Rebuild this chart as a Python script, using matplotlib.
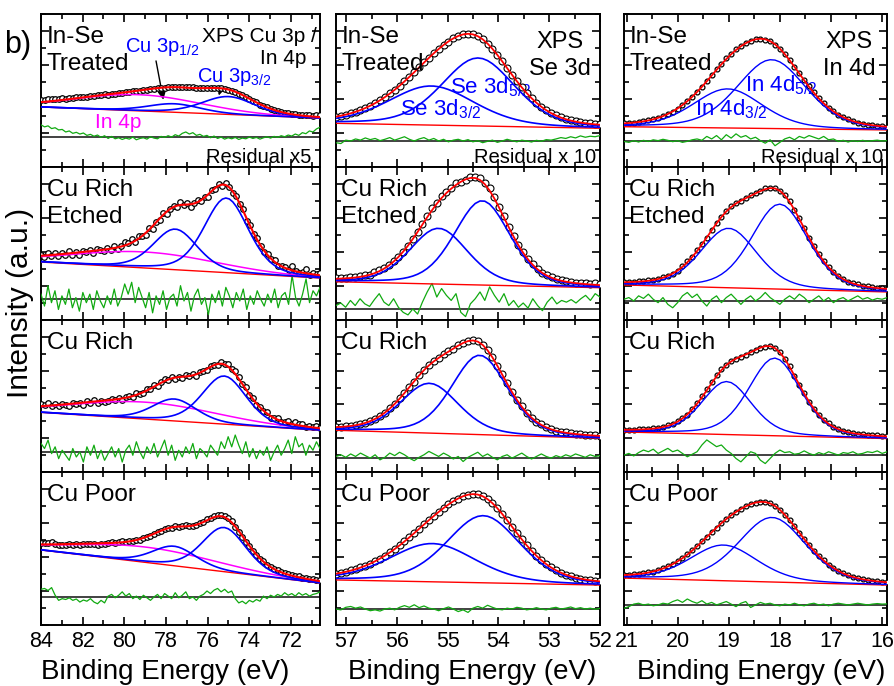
import numpy as np
import matplotlib.pyplot as plt
from matplotlib.ticker import MultipleLocator

plt.rcParams['font.family'] = ['Liberation Sans', 'DejaVu Sans']
plt.rcParams['mathtext.default'] = 'regular'

samples = ['In-Se\nTreated', 'Cu Rich\nEtched', 'Cu Rich', 'Cu Poor']

# ---- Cu 3p / In 4p ----
cu_xlim = (84.0, 70.6)
cu_bg = [(3.53, 2.88), (3.41, 2.47), (3.53, 2.47), (4.41, 2.47)]
in4p_pos = [79.3, 79.0, 79.0, 79.0]
in4p_amp = [0.95, 0.94, 1.0, 0.9]
in4p_fwhm = [7.0, 8.0, 8.0, 8.0]
cu3p12_pos = [77.6, 77.55, 77.6, 77.6]
cu3p12_amp = [0.5, 2.39, 1.3, 1.15]
cu3p32_pos = [75.0, 75.1, 75.2, 75.2]
cu3p32_amp = [1.05, 4.39, 2.85, 2.6]
cu3p_fwhm = [3.0, 2.5, 2.5, 2.5]
cu_res_base = [1.76, 1.22, 1.19, 1.65]
cu_res = [
    [0.72, 0.6, 0.66, 0.5, 0.55, 0.42, 0.45, 0.3, 0.36, 0.22, 0.28, 0.18, 0.24, 0.1, 0.16, 0.05,
     0.12, -0.02, 0.08, -0.08, 0.04, -0.1, -0.04, -0.14, -0.06, -0.12, 0.0, -0.16, -0.08, -0.04,
     -0.12, 0.02, -0.06, -0.1, 0.04, -0.02, 0.08, 0.0, 0.14, 0.06, 0.22, 0.3, 0.18, 0.26, 0.1,
     0.16, 0.04, 0.1, -0.04, 0.06, -0.08, 0.0, -0.12, -0.04, -0.1, -0.02, -0.14, -0.06, -0.1, 0.0,
     -0.08, -0.02, -0.12, -0.04, 0.02, -0.06, 0.04, -0.02, 0.08, 0.02, 0.12, 0.06, 0.18, 0.1,
     0.26, 0.2, 0.36, 0.3, 0.48, 0.58],
    [0.3, -0.4, 0.8, -0.2, 0.5, -0.6, 0.2, -0.3, 0.6, -0.5, 0.1, -0.7, 0.4, -0.2, 0.3, -0.6, 0.5,
     -0.1, -0.5, 0.2, -0.3, 0.6, -0.4, 0.1, 0.9, 0.3, 1.0, -0.2, 0.7, 0.1, -0.5, 0.4, -0.8, 0.2,
     -0.3, 0.5, -0.6, 0.1, 0.3, -0.4, 0.8, -0.1, 0.4, -0.7, 0.2, 0.6, -0.3, 0.1, -0.9, 0.3, -0.2,
     0.5, -0.4, 0.7, 0.2, -0.5, 0.4, -0.1, 0.6, -0.6, 0.2, -0.3, 0.5, 0.0, -0.4, 0.3, -0.2, 0.6,
     -0.5, 0.2, 0.4, -0.3, 1.4, 0.1, -0.4, 0.3, 1.2, -0.2, 0.5, 0.2, 0.7],
    [0.5, 0.2, 0.7, -0.1, 0.3, -0.4, 0.1, -0.2, -0.5, 0.2, -0.3, 0.0, -0.6, 0.3, -0.2, 0.4, -0.4,
     0.1, -0.5, -0.1, 0.3, -0.3, 0.2, -0.6, 0.1, 0.4, -0.2, 0.6, 0.0, -0.4, 0.3, -0.1, 0.5, -0.3,
     0.2, 0.7, -0.2, 0.4, -0.5, 0.1, -0.3, 0.3, -0.1, 0.5, -0.4, 0.2, 0.0, -0.3, 0.4, 0.1, -0.2,
     0.6, 0.2, 0.9, 0.3, 1.0, 0.4, -0.1, 0.6, -0.3, 0.2, -0.4, 0.1, -0.2, 0.3, -0.5, 0.0, 0.4,
     -0.2, 0.2, 0.7, -0.1, 0.9, 0.3, 0.5, -0.2, 0.4, 0.1, 0.6, 0.2],
    [0.45, 0.5, 0.38, 0.55, 0.1, -0.2, -0.1, -0.15, -0.05, -0.2, -0.12, -0.3, -0.18, -0.25, -0.1,
     -0.3, -0.4, -0.2, -0.35, 0.05, 0.15, -0.05, 0.1, 0.3, 0.05, 0.2, -0.1, 0.05, -0.15, 0.1,
     -0.05, -0.2, 0.0, 0.15, -0.1, 0.2, 0.05, -0.1, 0.25, -0.05, 0.1, 0.3, -0.1, 0.0, -0.2, 0.05,
     0.15, 0.35, 0.2, 0.4, 0.5, 0.3, 0.45, 0.25, 0.35, -0.1, -0.35, -0.25, -0.4, -0.2, -0.3,
     -0.15, -0.25, 0.05, -0.1, 0.1, 0.0, 0.15, 0.05, 0.25, 0.1, 0.2, 0.05, 0.25, 0.1, 0.2, 0.05,
     0.15, 0.2, 0.3],
]

# ---- Se 3d ----
se_xlim = (57.2, 52.0)
se_bg = [(2.57, 2.28), (2.25, 1.9), (2.47, 2.0), (2.65, 2.35)]
se52_pos = [54.4, 54.32, 54.37, 54.3]
se52_amp = [4.0, 4.96, 4.7, 3.95]
se32_pos = [55.32, 55.18, 55.36, 55.3]
se32_amp = [2.3, 3.28, 2.95, 2.25]
se_fwhm = [(1.7, 2.0), (1.3, 1.35), (1.3, 1.35), (1.7, 2.0)]
se_res_base = [1.53, 0.65, 0.82, 0.94]
se_res = [
    [-0.1, -0.15, 0.05, 0.0, 0.12, 0.05, 0.18, 0.08, 0.15, 0.02, 0.1, 0.2, 0.05, 0.15, 0.25, 0.1,
     0.0, 0.12, 0.2, 0.05, 0.15, 0.0, 0.1, -0.05, 0.05, 0.1, 0.0, 0.08, -0.05, 0.02, -0.1, -0.02,
     0.05, -0.08, 0.0, 0.1, 0.02, -0.05, 0.05, 0.0, -0.06, 0.04, -0.02, 0.08, 0.05, 0.12, 0.2,
     0.15, 0.25, 0.18, 0.3, 0.22, 0.28, 0.25, 0.32],
    [0.2, 0.35, 0.1, 0.5, 0.2, 0.6, 0.3, 0.15, 0.55, 0.9, 0.4, 0.2, 0.6, 0.1, -0.2, -0.35, 0.0,
     -0.3, 0.4, 1.0, 1.5, 0.7, 1.2, 0.8, 0.5, 0.9, -0.2, -0.45, 0.3, 0.6, 1.0, 0.5, 1.3, 0.8, 0.4,
     0.9, 0.2, 0.5, 0.1, 0.35, 0.05, 0.6, 0.2, -0.1, 0.4, 0.7, 0.3, 0.5, 0.4, 0.55, 0.35, 0.6, 0.8,
     0.5, 0.9, 0.7],
    [0.1, 0.2, 0.05, 0.25, 0.1, 0.3, 0.15, 0.0, 0.2, -0.1, 0.05, 0.3, 0.15, 0.35, 0.2, 0.0, -0.15,
     0.05, 0.2, 0.4, 0.25, 0.1, 0.3, 0.15, -0.05, 0.1, -0.2, 0.05, 0.2, 0.35, 0.1, 0.25, 0.05,
     -0.1, 0.1, 0.2, 0.0, 0.15, 0.3, 0.1, -0.05, 0.1, 0.25, 0.1, 0.0, 0.15, 0.05, 0.2, 0.1, 0.25,
     0.15, 0.05, 0.2, 0.1, 0.15],
    [0.0, -0.05, 0.1, 0.15, 0.05, 0.12, 0.0, -0.1, -0.05, -0.12, 0.0, 0.05, -0.05, 0.1, 0.2, 0.1,
     0.25, 0.08, 0.18, 0.05, 0.0, -0.1, 0.02, 0.12, 0.0, -0.15, -0.05, -0.2, 0.05, 0.15, 0.05,
     0.22, 0.1, 0.0, -0.05, 0.05, 0.0, 0.1, 0.05, -0.05, 0.0, 0.08, 0.0, -0.05, 0.05, 0.1, 0.0,
     0.05, 0.12, 0.02, 0.08, 0.0, 0.05, -0.02, 0.04],
]

# ---- In 4d ----
in_xlim = (21.05, 15.9)
in_bg = [(2.37, 2.18), (2.06, 1.65), (2.37, 1.98), (2.76, 2.35)]
in52_pos = [18.16, 18.0, 18.1, 18.15]
in52_amp = [4.05, 5.0, 4.6, 3.8]
in32_pos = [19.02, 19.0, 19.04, 19.1]
in32_amp = [2.3, 3.5, 3.14, 2.1]
in_fwhm = [(1.6, 1.6), (1.3, 1.3), (1.2, 1.15), (1.55, 1.55)]
in_res_base = [1.55, 1.12, 1.0, 1.18]
in_res = [
    [-0.05, -0.1, 0.0, -0.08, 0.02, -0.05, 0.05, 0.0, 0.08, 0.02, -0.06, 0.0, -0.1, -0.04, 0.05,
     0.1, 0.02, 0.25, 0.1, 0.3, 0.05, 0.35, 0.15, 0.4, 0.2, 0.3, 0.1, 0.2, 0.0, -0.15, 0.05, -0.3,
     -0.1, 0.1, 0.2, 0.05, 0.25, 0.15, 0.3, 0.2, 0.1, 0.25, 0.05, 0.1, -0.05, 0.02, -0.08, 0.0,
     -0.05, 0.02, -0.04, 0.0, 0.03, -0.02, 0.0],
    [0.1, 0.2, 0.0, 0.3, 0.15, 0.4, 0.1, -0.1, 0.2, -0.2, -0.4, -0.1, 0.3, 0.5, 0.2, 0.4, 0.0,
     -0.3, 0.1, 0.3, -0.1, 0.2, 0.4, 0.1, -0.2, 0.1, 0.3, 0.0, 0.2, 0.5, 0.2, 0.0, -0.2, 0.1, 0.3,
     0.1, 0.4, 0.2, -0.1, 0.1, 0.3, 0.0, 0.2, -0.1, 0.1, 0.2, 0.0, 0.15, 0.3, 0.1, 0.2, 0.05, 0.15,
     0.1, 0.2],
    [0.0, 0.1, -0.05, 0.15, 0.3, 0.2, 0.35, 0.1, 0.25, 0.4, 0.2, 0.3, 0.1, -0.1, 0.05, 0.2, 0.6,
     0.9, 0.7, 0.5, 0.6, 0.3, 0.1, -0.2, -0.4, -0.1, 0.2, 0.1, -0.3, -0.5, -0.2, 0.1, 0.3, 0.15,
     0.2, 0.05, 0.1, 0.25, 0.1, 0.0, 0.15, 0.05, 0.2, 0.1, 0.0, 0.15, 0.1, 0.2, 0.05, 0.1, 0.2,
     0.15, 0.25, 0.1, 0.2],
    [-0.2, -0.1, 0.05, 0.1, 0.0, 0.05, -0.05, 0.0, 0.1, 0.05, 0.2, 0.3, 0.15, 0.35, 0.2, 0.1, 0.25,
     0.05, 0.15, 0.0, 0.1, 0.2, 0.05, -0.1, 0.1, 0.2, -0.15, 0.0, 0.15, 0.05, 0.1, 0.0, -0.05,
     0.05, 0.0, 0.1, 0.0, -0.05, 0.05, 0.1, 0.0, 0.05, -0.05, 0.05, 0.1, 0.05, 0.0, 0.05, 0.1,
     0.05, 0.0, 0.05, 0.08, 0.05, 0.06],
]


def peak(e, pos, amp, fwhm, eta=0.3):
    # pseudo-Voigt line shape
    u = (e - pos) / fwhm
    return amp * ((1 - eta) * np.exp(-4 * np.log(2) * u ** 2) + eta / (1 + 4 * u ** 2))


W, H = 895, 686
col_px = [(41, 320), (336, 600), (624, 887)]
row_px = [14, 167, 320, 472, 625]

fig = plt.figure(figsize=(W / 100, H / 100), dpi=100)
axes = [[None] * 3 for _ in range(4)]
for r in range(4):
    for c in range(3):
        l, rr = col_px[c]
        t, b = row_px[r], row_px[r + 1]
        axes[r][c] = fig.add_axes([l / W, 1 - b / H, (rr - l) / W, (b - t) / H])


def style(ax, xlim, major, minor, last):
    ax.set_xlim(*xlim)
    ax.set_ylim(0, 9)
    ax.xaxis.set_major_locator(MultipleLocator(major))
    ax.xaxis.set_minor_locator(MultipleLocator(minor))
    ax.yaxis.set_major_locator(MultipleLocator(2))
    ax.yaxis.set_minor_locator(MultipleLocator(1))
    ax.tick_params(which='both', direction='in', top=True, right=True, width=1.2)
    ax.tick_params(which='major', length=6, labelsize=15.5, pad=4)
    ax.tick_params(which='minor', length=3.5)
    ax.tick_params(axis='y', labelleft=False)
    if not last:
        ax.tick_params(axis='x', labelbottom=False)
    for s in ax.spines.values():
        s.set_linewidth(1.4)


def draw_residual(ax, e, res, base):
    ax.axhline(base, color='#333333', lw=1.3, zorder=2)
    ax.plot(e, base + np.array(res), color='#11aa11', lw=0.9, zorder=3)


# Cu 3p / In 4p column
for r in range(4):
    ax = axes[r][0]
    res = np.array(cu_res[r])
    e = np.linspace(cu_xlim[0], cu_xlim[1], len(res))
    bg = np.linspace(cu_bg[r][0], cu_bg[r][1], len(res))
    p_in = peak(e, in4p_pos[r], in4p_amp[r], in4p_fwhm[r], 0.0)
    p1 = peak(e, cu3p12_pos[r], cu3p12_amp[r], cu3p_fwhm[r])
    p3 = peak(e, cu3p32_pos[r], cu3p32_amp[r], cu3p_fwhm[r])
    fit = bg + p_in + p1 + p3
    data = fit + res / 5
    ax.plot(e, data, 'o', mfc='white', mec='black', ms=4, mew=0.9, zorder=4)
    ax.plot(e, bg, color='red', lw=1.0, zorder=5)
    ax.plot(e, bg + p_in, color='magenta', lw=1.1, zorder=5)
    ax.plot(e, bg + p1, color='blue', lw=1.2, zorder=5)
    ax.plot(e, bg + p3, color='blue', lw=1.2, zorder=5)
    ax.plot(e, fit, color='red', lw=1.5, zorder=6)
    draw_residual(ax, e, res, cu_res_base[r])
    style(ax, cu_xlim, 2, 1, r == 3)

# Se 3d column
for r in range(4):
    ax = axes[r][1]
    res = np.array(se_res[r])
    e = np.linspace(se_xlim[0], se_xlim[1], len(res))
    bg = np.linspace(se_bg[r][0], se_bg[r][1], len(res))
    p5 = peak(e, se52_pos[r], se52_amp[r], se_fwhm[r][0])
    p3 = peak(e, se32_pos[r], se32_amp[r], se_fwhm[r][1])
    fit = bg + p5 + p3
    data = fit + res / 10
    ax.plot(e, data, 'o', mfc='white', mec='black', ms=5, mew=0.8, zorder=4)
    ax.plot(e, bg, color='red', lw=1.0, zorder=5)
    ax.plot(e, bg + p5, color='blue', lw=1.2, zorder=5)
    ax.plot(e, bg + p3, color='blue', lw=1.2, zorder=5)
    ax.plot(e, fit, color='red', lw=1.3, zorder=6)
    draw_residual(ax, e, res, se_res_base[r])
    style(ax, se_xlim, 1, 0.5, r == 3)

# In 4d column
for r in range(4):
    ax = axes[r][2]
    res = np.array(in_res[r])
    e = np.linspace(in_xlim[0], in_xlim[1], len(res))
    bg = np.linspace(in_bg[r][0], in_bg[r][1], len(res))
    p5 = peak(e, in52_pos[r], in52_amp[r], in_fwhm[r][0])
    p3 = peak(e, in32_pos[r], in32_amp[r], in_fwhm[r][1])
    fit = bg + p5 + p3
    data = fit + res / 10
    ax.plot(e, data, 'o', mfc='white', mec='black', ms=3.5, mew=0.9, zorder=4)
    ax.plot(e, bg, color='red', lw=1.0, zorder=5)
    ax.plot(e, bg + p5, color='blue', lw=1.0, zorder=5)
    ax.plot(e, bg + p3, color='blue', lw=1.0, zorder=5)
    ax.plot(e, fit, color='red', lw=1.3, zorder=6)
    draw_residual(ax, e, res, in_res_base[r])
    style(ax, in_xlim, 1, 0.5, r == 3)

# sample names
for r in range(4):
    for c in range(3):
        axes[r][c].text(0.02, 0.92, samples[r], transform=axes[r][c].transAxes,
                        ha='left', va='top', fontsize=17.5, linespacing=1.3, zorder=8)

# top row labels
a0, a1, a2 = axes[0]
a0.text(0.99, 0.915, 'XPS Cu 3p /', transform=a0.transAxes, ha='right', va='top', fontsize=15)
a0.text(0.95, 0.77, 'In 4p', transform=a0.transAxes, ha='right', va='top', fontsize=15)
a0.text(0.30, 0.75, 'Cu 3p$_{1/2}$', transform=a0.transAxes, color='blue', fontsize=14.5,
        va='baseline')
a0.text(0.56, 0.555, 'Cu 3p$_{3/2}$', transform=a0.transAxes, color='blue', fontsize=14.5,
        va='baseline')
a0.text(0.194, 0.255, 'In 4p', transform=a0.transAxes, color='magenta', fontsize=15,
        va='baseline')
a0.annotate('', xy=(78.1, 3.8), xytext=(78.5, 6.4),
            arrowprops=dict(arrowstyle='-|>', color='black', lw=1.0, mutation_scale=12))
a0.annotate('', xy=(75.5, 4.05), xytext=(75.3, 4.85),
            arrowprops=dict(arrowstyle='-|>', color='black', lw=1.0, mutation_scale=12))

a1.text(0.85, 0.89, 'XPS\nSe 3d', transform=a1.transAxes, ha='center', va='top',
        fontsize=17, linespacing=1.3)
a1.text(0.432, 0.484, 'Se 3d$_{5/2}$', transform=a1.transAxes, color='blue', fontsize=16,
        va='baseline')
a1.text(0.242, 0.34, 'Se 3d$_{3/2}$', transform=a1.transAxes, color='blue', fontsize=16,
        va='baseline')

a2.text(0.855, 0.89, 'XPS\nIn 4d', transform=a2.transAxes, ha='center', va='top',
        fontsize=17, linespacing=1.3)
a2.text(0.46, 0.497, 'In 4d$_{5/2}$', transform=a2.transAxes, color='blue', fontsize=16,
        va='baseline')
a2.text(0.27, 0.34, 'In 4d$_{3/2}$', transform=a2.transAxes, color='blue', fontsize=16,
        va='baseline')

a0.text(0.97, 0.026, 'Residual x5', transform=a0.transAxes, ha='right', va='baseline',
        fontsize=14.5)
a1.text(0.985, 0.026, 'Residual x 10', transform=a1.transAxes, ha='right', va='baseline',
        fontsize=14.5)
a2.text(0.985, 0.026, 'Residual x 10', transform=a2.transAxes, ha='right', va='baseline',
        fontsize=14.5)

for c in range(3):
    axes[3][c].set_xlabel('Binding Energy (eV)', fontsize=20, labelpad=0)
axes[3][0].xaxis.set_label_coords(0.445, -0.22)
axes[3][1].xaxis.set_label_coords(0.515, -0.22)
axes[3][2].xaxis.set_label_coords(0.52, -0.22)

fig.text(20 / W, 1 - 303 / H, 'Intensity (a.u.)', rotation=90, ha='center', va='center',
         fontsize=21.5)
fig.text(4 / W, 1 - 45 / H, 'b)', ha='left', va='center', fontsize=22)

fig.savefig('out.png', dpi=100)
